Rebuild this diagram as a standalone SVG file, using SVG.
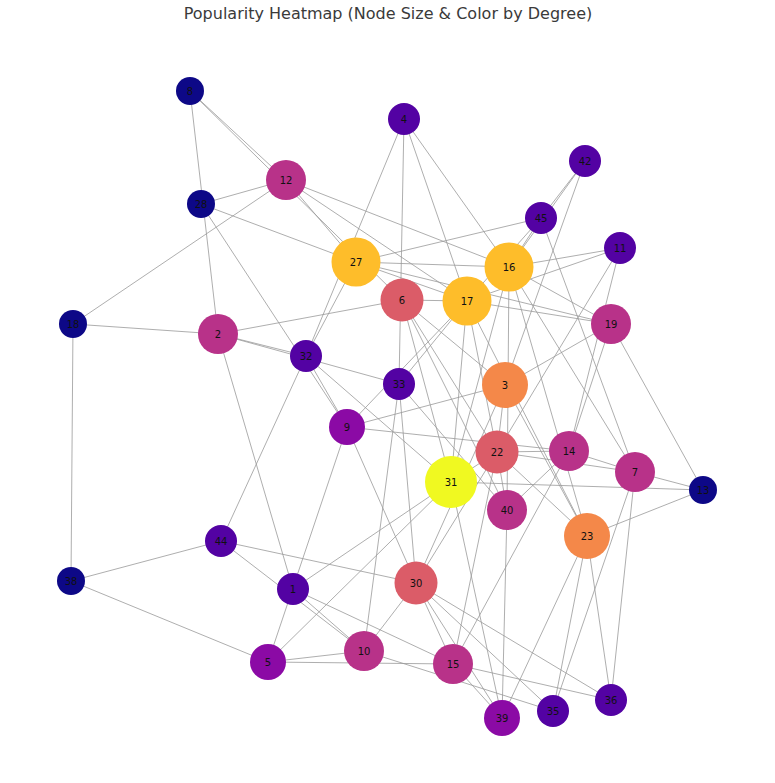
<svg xmlns="http://www.w3.org/2000/svg" width="775" height="783" viewBox="0 0 775 783">
<style>
.e line{stroke:#9a9a9a;stroke-width:1;stroke-opacity:0.8}
.n text{font-family:"DejaVu Sans","Liberation Sans",sans-serif;font-size:10px;fill:#111;text-anchor:middle;dominant-baseline:central}
.c0{fill:#0d0887}.c1{fill:#5302a3}.c2{fill:#8b0aa5}.c3{fill:#b83289}.c4{fill:#db5c68}.c5{fill:#f48849}.c6{fill:#febd2a}.c7{fill:#f0f921}
.t{font-family:"DejaVu Sans","Liberation Sans",sans-serif;font-size:16px;fill:#3a3a3a;text-anchor:middle}
</style>
<rect width="775" height="783" fill="#fff"/>
<text class="t" x="388" y="19">Popularity Heatmap (Node Size &amp; Color by Degree)</text>
<g id="edges" class="e">
<line x1="190" y1="91" x2="218" y2="334"/>
<line x1="190" y1="91" x2="286" y2="180"/>
<line x1="190" y1="91" x2="402" y2="300"/>
<line x1="201" y1="204" x2="286" y2="180"/>
<line x1="201" y1="204" x2="356" y2="262"/>
<line x1="201" y1="204" x2="347" y2="427"/>
<line x1="286" y1="180" x2="73" y2="324"/>
<line x1="286" y1="180" x2="509" y2="267"/>
<line x1="286" y1="180" x2="467" y2="301"/>
<line x1="286" y1="180" x2="356" y2="262"/>
<line x1="73" y1="324" x2="218" y2="334"/>
<line x1="73" y1="324" x2="71" y2="581"/>
<line x1="71" y1="581" x2="221" y2="541"/>
<line x1="71" y1="581" x2="268" y2="662"/>
<line x1="218" y1="334" x2="306" y2="356"/>
<line x1="218" y1="334" x2="399" y2="384"/>
<line x1="218" y1="334" x2="402" y2="300"/>
<line x1="218" y1="334" x2="293" y2="589"/>
<line x1="221" y1="541" x2="306" y2="356"/>
<line x1="221" y1="541" x2="416" y2="583"/>
<line x1="221" y1="541" x2="364" y2="651"/>
<line x1="293" y1="589" x2="364" y2="651"/>
<line x1="293" y1="589" x2="451" y2="482"/>
<line x1="293" y1="589" x2="453" y2="664"/>
<line x1="347" y1="427" x2="268" y2="662"/>
<line x1="268" y1="662" x2="364" y2="651"/>
<line x1="268" y1="662" x2="453" y2="664"/>
<line x1="268" y1="662" x2="451" y2="482"/>
<line x1="404" y1="119" x2="306" y2="356"/>
<line x1="404" y1="119" x2="399" y2="384"/>
<line x1="404" y1="119" x2="467" y2="301"/>
<line x1="404" y1="119" x2="509" y2="267"/>
<line x1="356" y1="262" x2="509" y2="267"/>
<line x1="356" y1="262" x2="467" y2="301"/>
<line x1="356" y1="262" x2="541" y2="218"/>
<line x1="356" y1="262" x2="611" y2="324"/>
<line x1="356" y1="262" x2="306" y2="356"/>
<line x1="402" y1="300" x2="467" y2="301"/>
<line x1="467" y1="301" x2="611" y2="324"/>
<line x1="509" y1="267" x2="541" y2="218"/>
<line x1="467" y1="301" x2="541" y2="218"/>
<line x1="585" y1="161" x2="541" y2="218"/>
<line x1="585" y1="161" x2="509" y2="267"/>
<line x1="585" y1="161" x2="505" y2="385"/>
<line x1="509" y1="267" x2="620" y2="248"/>
<line x1="467" y1="301" x2="620" y2="248"/>
<line x1="509" y1="267" x2="611" y2="324"/>
<line x1="541" y1="218" x2="635" y2="472"/>
<line x1="620" y1="248" x2="497" y2="452"/>
<line x1="620" y1="248" x2="569" y2="451"/>
<line x1="611" y1="324" x2="703" y2="490"/>
<line x1="611" y1="324" x2="505" y2="385"/>
<line x1="611" y1="324" x2="569" y2="451"/>
<line x1="399" y1="384" x2="467" y2="301"/>
<line x1="347" y1="427" x2="467" y2="301"/>
<line x1="306" y1="356" x2="451" y2="482"/>
<line x1="306" y1="356" x2="347" y2="427"/>
<line x1="347" y1="427" x2="505" y2="385"/>
<line x1="347" y1="427" x2="569" y2="451"/>
<line x1="347" y1="427" x2="416" y2="583"/>
<line x1="399" y1="384" x2="416" y2="583"/>
<line x1="399" y1="384" x2="364" y2="651"/>
<line x1="399" y1="384" x2="507" y2="510"/>
<line x1="402" y1="300" x2="497" y2="452"/>
<line x1="402" y1="300" x2="507" y2="510"/>
<line x1="402" y1="300" x2="505" y2="385"/>
<line x1="402" y1="300" x2="451" y2="482"/>
<line x1="467" y1="301" x2="451" y2="482"/>
<line x1="467" y1="301" x2="497" y2="452"/>
<line x1="467" y1="301" x2="587" y2="536"/>
<line x1="509" y1="267" x2="451" y2="482"/>
<line x1="509" y1="267" x2="507" y2="510"/>
<line x1="509" y1="267" x2="587" y2="536"/>
<line x1="509" y1="267" x2="635" y2="472"/>
<line x1="505" y1="385" x2="497" y2="452"/>
<line x1="505" y1="385" x2="587" y2="536"/>
<line x1="505" y1="385" x2="416" y2="583"/>
<line x1="497" y1="452" x2="569" y2="451"/>
<line x1="497" y1="452" x2="635" y2="472"/>
<line x1="497" y1="452" x2="507" y2="510"/>
<line x1="497" y1="452" x2="587" y2="536"/>
<line x1="497" y1="452" x2="451" y2="482"/>
<line x1="497" y1="452" x2="416" y2="583"/>
<line x1="497" y1="452" x2="453" y2="664"/>
<line x1="451" y1="482" x2="703" y2="490"/>
<line x1="451" y1="482" x2="502" y2="718"/>
<line x1="569" y1="451" x2="635" y2="472"/>
<line x1="569" y1="451" x2="507" y2="510"/>
<line x1="569" y1="451" x2="453" y2="664"/>
<line x1="635" y1="472" x2="703" y2="490"/>
<line x1="635" y1="472" x2="553" y2="711"/>
<line x1="635" y1="472" x2="611" y2="700"/>
<line x1="587" y1="536" x2="703" y2="490"/>
<line x1="587" y1="536" x2="502" y2="718"/>
<line x1="587" y1="536" x2="553" y2="711"/>
<line x1="587" y1="536" x2="611" y2="700"/>
<line x1="507" y1="510" x2="502" y2="718"/>
<line x1="416" y1="583" x2="453" y2="664"/>
<line x1="416" y1="583" x2="502" y2="718"/>
<line x1="416" y1="583" x2="553" y2="711"/>
<line x1="416" y1="583" x2="611" y2="700"/>
<line x1="416" y1="583" x2="364" y2="651"/>
<line x1="453" y1="664" x2="502" y2="718"/>
<line x1="453" y1="664" x2="611" y2="700"/>
<line x1="364" y1="651" x2="553" y2="711"/>
</g>
<g id="n8" class="n"><circle class="c0" cx="190" cy="91" r="14"/><text x="190" y="91">8</text></g>
<g id="n28" class="n"><circle class="c0" cx="201" cy="204" r="14"/><text x="201" y="204">28</text></g>
<g id="n18" class="n"><circle class="c0" cx="73" cy="324" r="14"/><text x="73" y="324">18</text></g>
<g id="n38" class="n"><circle class="c0" cx="71" cy="581" r="14"/><text x="71" y="581">38</text></g>
<g id="n13" class="n"><circle class="c0" cx="703" cy="490" r="14"/><text x="703" y="490">13</text></g>
<g id="n4" class="n"><circle class="c1" cx="404" cy="119" r="16"/><text x="404" y="119">4</text></g>
<g id="n45" class="n"><circle class="c1" cx="541" cy="218" r="16"/><text x="541" y="218">45</text></g>
<g id="n42" class="n"><circle class="c1" cx="585" cy="161" r="16"/><text x="585" y="161">42</text></g>
<g id="n11" class="n"><circle class="c1" cx="620" cy="248" r="16"/><text x="620" y="248">11</text></g>
<g id="n32" class="n"><circle class="c1" cx="306" cy="356" r="16"/><text x="306" y="356">32</text></g>
<g id="n33" class="n"><circle class="c1" cx="399" cy="384" r="16"/><text x="399" y="384">33</text></g>
<g id="n44" class="n"><circle class="c1" cx="221" cy="541" r="16"/><text x="221" y="541">44</text></g>
<g id="n1" class="n"><circle class="c1" cx="293" cy="589" r="16"/><text x="293" y="589">1</text></g>
<g id="n35" class="n"><circle class="c1" cx="553" cy="711" r="16"/><text x="553" y="711">35</text></g>
<g id="n36" class="n"><circle class="c1" cx="611" cy="700" r="16"/><text x="611" y="700">36</text></g>
<g id="n9" class="n"><circle class="c2" cx="347" cy="427" r="18"/><text x="347" y="427">9</text></g>
<g id="n5" class="n"><circle class="c2" cx="268" cy="662" r="18"/><text x="268" y="662">5</text></g>
<g id="n39" class="n"><circle class="c2" cx="502" cy="718" r="18"/><text x="502" y="718">39</text></g>
<g id="n12" class="n"><circle class="c3" cx="286" cy="180" r="20"/><text x="286" y="180">12</text></g>
<g id="n2" class="n"><circle class="c3" cx="218" cy="334" r="20"/><text x="218" y="334">2</text></g>
<g id="n19" class="n"><circle class="c3" cx="611" cy="324" r="20"/><text x="611" y="324">19</text></g>
<g id="n14" class="n"><circle class="c3" cx="569" cy="451" r="20"/><text x="569" y="451">14</text></g>
<g id="n7" class="n"><circle class="c3" cx="635" cy="472" r="20"/><text x="635" y="472">7</text></g>
<g id="n40" class="n"><circle class="c3" cx="507" cy="510" r="20"/><text x="507" y="510">40</text></g>
<g id="n10" class="n"><circle class="c3" cx="364" cy="651" r="20"/><text x="364" y="651">10</text></g>
<g id="n15" class="n"><circle class="c3" cx="453" cy="664" r="20"/><text x="453" y="664">15</text></g>
<g id="n6" class="n"><circle class="c4" cx="402" cy="300" r="21.5"/><text x="402" y="300">6</text></g>
<g id="n22" class="n"><circle class="c4" cx="497" cy="452" r="21.5"/><text x="497" y="452">22</text></g>
<g id="n30" class="n"><circle class="c4" cx="416" cy="583" r="21.5"/><text x="416" y="583">30</text></g>
<g id="n3" class="n"><circle class="c5" cx="505" cy="385" r="23"/><text x="505" y="385">3</text></g>
<g id="n23" class="n"><circle class="c5" cx="587" cy="536" r="23"/><text x="587" y="536">23</text></g>
<g id="n27" class="n"><circle class="c6" cx="356" cy="262" r="24.5"/><text x="356" y="262">27</text></g>
<g id="n16" class="n"><circle class="c6" cx="509" cy="267" r="24.5"/><text x="509" y="267">16</text></g>
<g id="n17" class="n"><circle class="c6" cx="467" cy="301" r="24.5"/><text x="467" y="301">17</text></g>
<g id="n31" class="n"><circle class="c7" cx="451" cy="482" r="26"/><text x="451" y="482">31</text></g>
</svg>
